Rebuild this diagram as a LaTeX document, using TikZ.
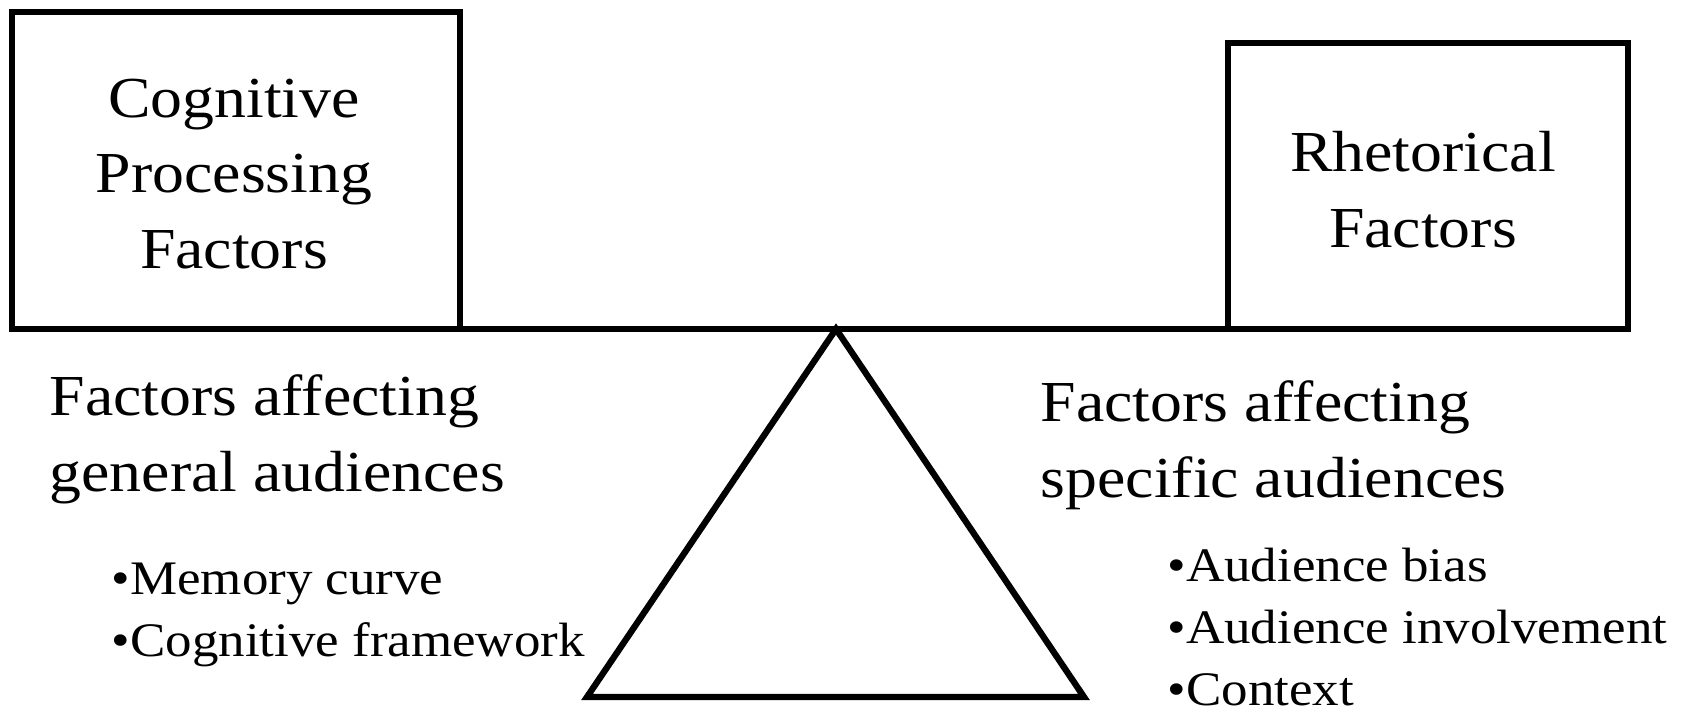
\documentclass[tikz,border=0pt]{standalone}
\usepackage{fontspec}
\setmainfont{Liberation Serif}[FakeStretch=1.1]
\begin{document}
\begin{tikzpicture}[
  outline/.style={line width=1.8pt},
  boxtext/.style={font=\fontsize{16.5}{21.4}\selectfont, align=center, inner sep=0pt, anchor=base},
  headtext/.style={font=\fontsize{16.5}{21.4}\selectfont, align=left, inner sep=0pt, anchor=base west},
  listtext/.style={font=\fontsize{13.7}{17.6}\selectfont, align=left, inner sep=0pt, anchor=base west}
]
  % Frame
  \useasboundingbox (0,0) rectangle (16.86,7.12);

  % Boxes on the beam
  \draw[outline] (0.12,3.83) rectangle (4.60,7.00);
  \draw[outline] (12.28,3.83) rectangle (16.28,6.69);
  \draw[outline] (0.12,3.83) -- (16.28,3.83);

  % Fulcrum
  \draw[outline] (8.36,3.83) -- (10.84,0.15) -- (5.87,0.15) -- cycle;

  % Box labels (base = last line)
  \node[boxtext] (cognitive) at (2.34,4.44) {Cognitive\\Processing\\Factors};
  \node[boxtext] (rhetorical) at (14.23,4.65) {Rhetorical\\Factors};

  % Left side
  \node[headtext] (general) at (0.49,2.21) {Factors affecting\\general audiences};
  \node[listtext] (generallist) at (1.11,0.56) {•Memory curve\\•Cognitive framework};

  % Right side
  \node[headtext] (specific) at (10.40,2.15) {Factors affecting\\specific audiences};
  \node[listtext] (specificlist) at (11.67,0.07) {•Audience bias\\•Audience involvement\\•Context};
\end{tikzpicture}
\end{document}
